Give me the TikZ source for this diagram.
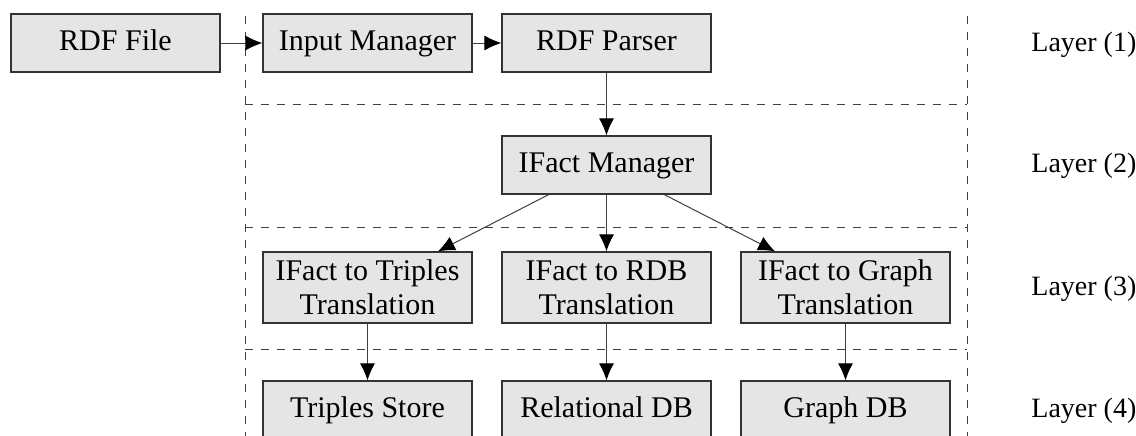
\documentclass[tikz,border=0pt]{standalone}
\usepackage{fontspec}
\setmainfont{Liberation Serif}
\usetikzlibrary{arrows.meta}
\begin{document}
\begin{tikzpicture}[x=0.5pt,y=-0.5pt,
  font=\fontsize{14}{16.5}\selectfont,
  basebox/.style={draw=black!80, line width=0.6pt, fill=black!10, minimum width=104.5pt, inner sep=0pt, align=center, font=\fontsize{15}{17}\selectfont},
  box/.style={basebox, minimum height=29pt, text height=10.5pt, text depth=3.3pt},
  tallbox/.style={basebox, minimum height=35.5pt},
  layer/.style={anchor=west, inner sep=0pt},
  sep/.style={draw=black!75, line width=0.5pt, dash pattern=on 4pt off 4pt},
  link/.style={draw=black!75, line width=0.5pt, -{Latex[length=8.5pt,width=7.5pt,color=black]}}
]
\useasboundingbox (0,0) rectangle (1136,435);
% layer separators
\draw[sep] (245,16) -- (245,440);
\draw[sep] (967,16) -- (967,440);
\draw[sep] (245,104) -- (967,104);
\draw[sep] (245,227) -- (967,227);
\draw[sep] (245,349) -- (967,349);
% nodes
\node[box] (file) at (115.5,43) {RDF File};
\node[box] (input) at (367.5,43) {Input Manager};
\node[box] (parser) at (606.5,43) {RDF Parser};
\node[box] (manager) at (606.5,165) {IFact Manager};
\node[tallbox] (ttrip) at (367.5,287.5) {IFact to Triples\\Translation};
\node[tallbox] (trdb) at (606.5,287.5) {IFact to RDB\\Translation};
\node[tallbox] (tgraph) at (845.5,287.5) {IFact to Graph\\Translation};
\node[box] (store) at (367.5,410) {Triples Store};
\node[box] (rdb) at (606.5,410) {Relational DB};
\node[box] (graph) at (845.5,410) {Graph DB};
% layer labels
\node[layer] (l1) at (1031,45) {Layer (1)};
\node[layer] (l2) at (1031,166) {Layer (2)};
\node[layer] (l3) at (1031,289) {Layer (3)};
\node[layer] (l4) at (1031,411) {Layer (4)};
% connectors
\draw[link] (file) -- (input);
\draw[link] (input) -- (parser);
\draw[link] (parser) -- (manager);
\draw[link] (manager) -- (ttrip);
\draw[link] (manager) -- (trdb);
\draw[link] (manager) -- (tgraph);
\draw[link] (ttrip) -- (store);
\draw[link] (trdb) -- (rdb);
\draw[link] (tgraph) -- (graph);
\end{tikzpicture}
\end{document}
